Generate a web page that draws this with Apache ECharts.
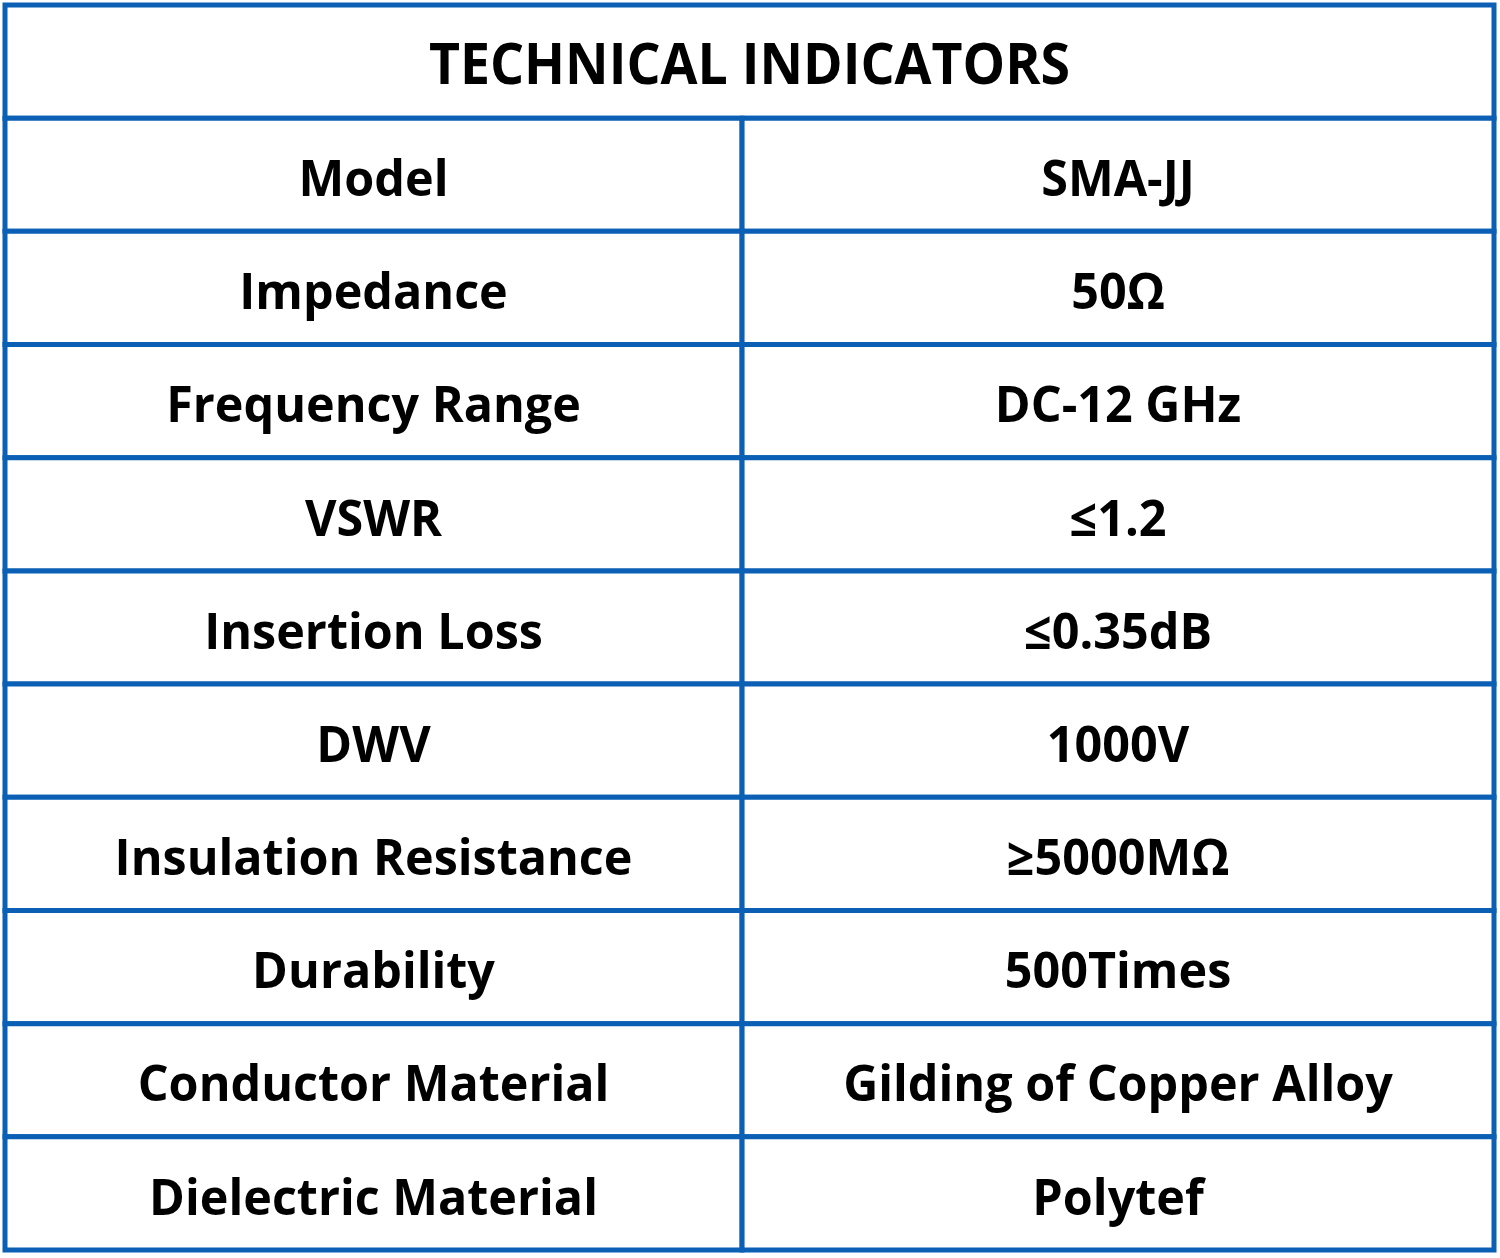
<!DOCTYPE html>
<html>
<head>
<meta charset="utf-8">
<script src="https://cdn.jsdelivr.net/npm/echarts@6/dist/echarts.min.js"></script>
<style>
html,body{margin:0;padding:0;background:#fff;}
#chart{width:1500px;height:1258px;}
</style>
</head>
<body>
<div id="chart"></div>
<script>
const titleText = 'TECHNICAL INDICATORS';
const parameters = ['Model','Impedance','Frequency Range','VSWR','Insertion Loss','DWV','Insulation Resistance','Durability','Conductor Material','Dielectric Material'];
const values = ['SMA-JJ','50Ω','DC-12 GHz','≤1.2','≤0.35dB','1000V','≥5000MΩ','500Times','Gilding of Copper Alloy','Polytef'];

const LINE = '#0b60b5';
const SPLIT = 0.99; // column divider position (layout)
const rowCount = parameters.length + 1;

const cells = [];
cells.push({value: [0, 2, 0], name: titleText, kind: 'title'});
parameters.forEach(function (p, i) {
  cells.push({value: [0, SPLIT, i + 1], name: p, kind: 'cell'});
  cells.push({value: [SPLIT, 2, i + 1], name: values[i], kind: 'cell'});
});

const chart = echarts.init(document.getElementById('chart'));
chart.setOption({
  backgroundColor: '#ffffff',
  animation: false,
  grid: {left: 5, right: 6, top: 5, bottom: 8},
  xAxis: {type: 'value', min: 0, max: 2, show: false},
  yAxis: {type: 'value', min: 0, max: rowCount, inverse: true, show: false},
  series: [{
    type: 'custom',
    coordinateSystem: 'cartesian2d',
    data: cells,
    renderItem: function (params, api) {
      const item = cells[params.dataIndex];
      const p0 = api.coord([api.value(0), api.value(2)]);
      const p1 = api.coord([api.value(1), api.value(2) + 1]);
      const x = Math.min(p0[0], p1[0]), y = Math.min(p0[1], p1[1]);
      const w = Math.abs(p1[0] - p0[0]), h = Math.abs(p1[1] - p0[1]);
      const isTitle = item.kind === 'title';
      return {
        type: 'group',
        children: [{
          type: 'rect',
          shape: {x: x, y: y, width: w, height: h},
          style: {fill: '#ffffff', stroke: LINE, lineWidth: 5}
        }, {
          type: 'text',
          x: x + w / 2,
          y: y + h / 2 + (isTitle ? 6 : 7),
          scaleX: isTitle ? 0.94 : 0.97,
          style: {
            x: 0, y: 0,
            text: item.name,
            fill: '#000000',
            font: 'bold ' + (isTitle ? 57 : 50) + 'px "Open Sans"',
            align: 'center',
            verticalAlign: 'middle'
          }
        }]
      };
    }
  }]
});
</script>
</body>
</html>
